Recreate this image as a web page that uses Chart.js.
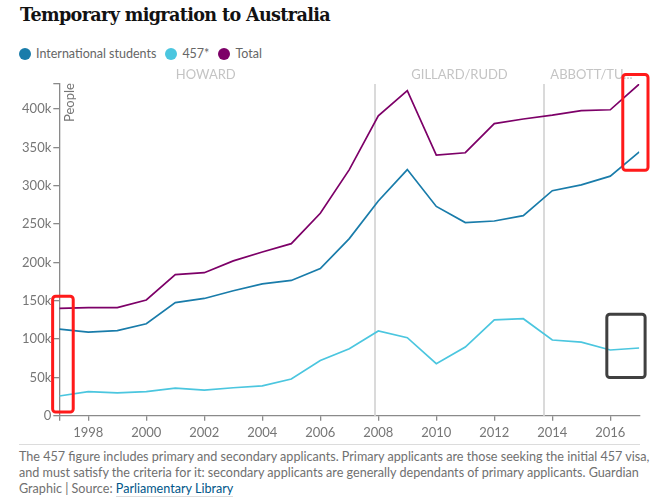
<!DOCTYPE html>
<html><head><meta charset="utf-8">
<script src="https://cdn.jsdelivr.net/npm/chart.js@4.4.1/dist/chart.umd.min.js"></script>
<style>
body{margin:0;width:650px;height:504px;background:#fff;position:relative;overflow:hidden;font-family:Lato,"Noto Sans",sans-serif;}
#title{position:absolute;left:20px;top:4px;font:bold 17.6px "DejaVu Serif",serif;color:#121212;white-space:nowrap;letter-spacing:-0.65px;}
#legend{position:absolute;left:19px;top:45px;font-size:12.5px;color:#666;white-space:nowrap;}
#legend span.item{display:inline-block;margin-right:9px;vertical-align:middle;}
#legend span.dot{display:inline-block;width:12px;height:12px;border-radius:6px;margin-right:5px;vertical-align:-2px;}
#footer{position:absolute;left:19px;top:449px;font-size:12.6px;line-height:16px;color:#707070;white-space:nowrap;}
#footer a{color:#005689;text-decoration:none;border-bottom:1px solid #dcdcdc;}
#sep{position:absolute;left:19px;top:444px;width:621px;height:1px;background:#dcdcdc;}
canvas{position:absolute;left:0;top:0;}
</style>
</head><body>
<div id="title">Temporary migration to Australia</div>
<div id="legend"></div>
<div id="sep"></div>
<div id="footer">The 457 figure includes primary and secondary applicants. Primary applicants are those seeking the initial 457 visa,<br>and must satisfy the criteria for it: secondary applicants are generally dependants of primary applicants. Guardian<br>Graphic | Source: <a>Parliamentary Library</a></div>
<canvas id="c" width="650" height="504"></canvas>
<script>
const years = [1997,1998,1999,2000,2001,2002,2003,2004,2005,2006,2007,2008,2009,2010,2011,2012,2013,2014,2015,2016,2017];
const students = [113000,109000,111000,120000,147500,153000,163000,172000,176500,192000,231000,280000,321000,273000,252000,254000,261000,293500,301000,312500,344000];
const visa457 = [25800,31400,30000,31400,36000,33600,36600,39000,48000,72000,87500,110600,101800,68000,89700,125000,126600,98800,96000,85800,88400];
const total = [140000,141000,141000,151000,184000,186600,202000,213600,224400,264000,321000,391000,424000,340000,343000,381000,387000,392000,398000,399000,432600];
const seriesNames = ["International students","457*","Total"];
const xTickYears = [1997,1998,2000,2002,2004,2006,2008,2010,2012,2014,2016];
const yTickValues = [0,50000,100000,150000,200000,250000,300000,350000,400000];
const periodNames = ["HOWARD","GILLARD/RUDD","ABBOTT/TU..."];
const periodStarts = [1996.2,2007.9,2013.7];
const periodEnds = [2007.9,2013.7,2017];

const colors = ["#197caa","#4bc6df","#7d0068"];
const seriesData = [students, visa457, total];

// HTML legend
const leg = document.getElementById('legend');
seriesNames.forEach((n,i)=>{
  const s=document.createElement('span');s.className='item';
  s.innerHTML='<span class="dot" style="background:'+colors[i]+'"></span>'+n;
  leg.appendChild(s);
});

const yMax = Math.max(...total);

const overlay = {
  id:'overlay',
  beforeDatasetsDraw(chart){
    const {ctx, chartArea:a, scales:{x}} = chart;
    ctx.save();
    ctx.strokeStyle='#dadada';ctx.lineWidth=2;
    periodStarts.forEach(p=>{
      if(p<=x.min) return;
      const px=Math.round(x.getPixelForValue(p));
      ctx.beginPath();ctx.moveTo(px,a.top);ctx.lineTo(px,a.bottom);ctx.stroke();
    });
    ctx.restore();
  },
  afterDraw(chart){
    const {ctx, scales:{x,y}} = chart;
    ctx.save();
    ctx.fillStyle='#c4c4c4';ctx.font='13px Lato';ctx.textAlign='center';ctx.textBaseline='middle';
    periodNames.forEach((n,i)=>{
      const c=x.getPixelForValue((periodStarts[i]+periodEnds[i])/2);
      ctx.fillText(n,c,75);
    });
    // axis title
    ctx.fillStyle='#767676';ctx.font='13px Lato';ctx.textAlign='left';ctx.textBaseline='middle';
    ctx.translate(70,122);ctx.rotate(-Math.PI/2);ctx.fillText('People',0,0);
    ctx.restore();
    // highlight boxes
    const boxes = chart.options.plugins.overlay.boxes;
    ctx.save();
    boxes.forEach(b=>{
      const x1=x.getPixelForValue(b.x0), x2=x.getPixelForValue(b.x1);
      const y1=y.getPixelForValue(b.y1), y2=y.getPixelForValue(b.y0);
      ctx.strokeStyle=b.color;ctx.lineWidth=3;
      ctx.beginPath();
      if(ctx.roundRect) ctx.roundRect(x1,y1,x2-x1,y2-y1,3); else ctx.rect(x1,y1,x2-x1,y2-y1);
      ctx.stroke();
    });
    ctx.restore();
  }
};

new Chart(document.getElementById('c'),{
  type:'line',
  data:{
    datasets: seriesNames.map((n,i)=>({
      label:n,
      data: years.map((yr,j)=>({x:yr,y:seriesData[i][j]})),
      borderColor:colors[i],
      backgroundColor:colors[i],
      borderWidth:1.7,
      pointRadius:0,
      tension:0,
      fill:false
    }))
  },
  options:{
    responsive:false,
    animation:false,
    devicePixelRatio:1,
    layout:{padding:{top:84,right:10.7,left:0,bottom:0}},
    plugins:{
      legend:{display:false},
      tooltip:{enabled:false},
      overlay:{boxes:[
        {x0:1996.77,x1:1997.48,y0:5000,y1:156000,color:'#ff1a1a'},
        {x0:2016.43,x1:2017.3,y0:320000,y1:445000,color:'#ff1a1a'},
        {x0:2015.88,x1:2017.2,y0:50000,y1:132500,color:'#404040'}
      ]}
    },
    scales:{
      x:{
        type:'linear',min:1997,max:2017,
        afterFit(s){s.height=88.2;},
        afterBuildTicks(s){s.ticks=xTickYears.map(v=>({value:v}));},
        ticks:{callback:v=>v===1997?'':String(v),color:'#767676',font:{family:'Lato',size:13},padding:4,maxRotation:0,autoSkip:false},
        grid:{drawOnChartArea:false,drawTicks:true,tickLength:5,color:'#8a8a8a',lineWidth:1.3},
        border:{color:'#8a8a8a',width:1.3}
      },
      y:{
        type:'linear',min:0,max:yMax,
        afterFit(s){s.width=59.3;},
        afterBuildTicks(s){s.ticks=yTickValues.concat([yMax]).map(v=>({value:v}));},
        ticks:{callback:v=>v===yMax?'':(v===0?'0':(v/1000)+'k'),color:'#767676',font:{family:'Lato',size:13},padding:2},
        grid:{drawOnChartArea:false,drawTicks:true,tickLength:6,color:'#8a8a8a',lineWidth:1.3},
        border:{color:'#8a8a8a',width:1.3}
      }
    }
  },
  plugins:[overlay]
});
</script>
</body></html>
